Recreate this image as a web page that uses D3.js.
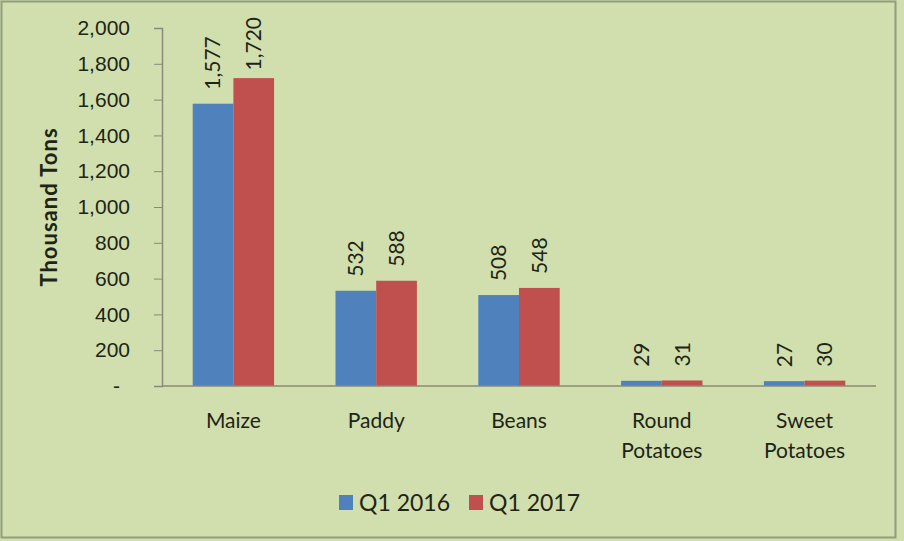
<!DOCTYPE html>
<html>
<head>
<meta charset="utf-8">
<script src="https://cdn.jsdelivr.net/npm/d3@7/dist/d3.min.js"></script>
<style>
  html, body { margin: 0; padding: 0; background: #ffffff; }
  svg { display: block; font-family: Lato, "Noto Sans", sans-serif; }
  text { fill: #1e2416; }
</style>
</head>
<body>
<div id="chart"></div>
<script>
const categories = [['Maize'], ['Paddy'], ['Beans'], ['Round', 'Potatoes'], ['Sweet', 'Potatoes']];
const seriesNames = ['Q1 2016', 'Q1 2017'];
const q1_2016 = [1577, 532, 508, 29, 27];
const q1_2017 = [1720, 588, 548, 31, 30];
const yTicks = [0, 200, 400, 600, 800, 1000, 1200, 1400, 1600, 1800, 2000];
const colors = ['#4f81bd', '#c0504d'];

const chartWidth = 904;
const chartHeight = 541;
const plotLeft = 162; // y axis position
const plotRight = 876;
const plotTop = 28;
const plotBottom = 386;

const svg = d3.select('#chart')
  .append('svg')
  .attr('width', chartWidth)
  .attr('height', chartHeight);

// background + frame
svg.append('rect')
  .attr('x', 0).attr('y', 0)
  .attr('width', chartWidth).attr('height', chartHeight)
  .attr('fill', '#d0dfad');
svg.append('rect')
  .attr('x', 1.5).attr('y', 1.5)
  .attr('width', 894).attr('height', 536)
  .attr('fill', 'none')
  .attr('stroke', '#8f9d80')
  .attr('stroke-width', 2);

const rows = categories.map((c, i) => ({ key: c.join(' '), lines: c, values: [q1_2016[i], q1_2017[i]] }));

const x0 = d3.scaleBand()
  .domain(rows.map(d => d.key))
  .range([plotLeft, plotRight])
  .paddingInner(0.43)
  .paddingOuter(0.215);

const x1 = d3.scaleBand()
  .domain([0, 1])
  .range([0, x0.bandwidth()]);

const y = d3.scaleLinear()
  .domain([0, 2000])
  .range([plotBottom, plotTop]);

// y axis
const yAxis = d3.axisLeft(y)
  .tickValues(yTicks)
  .tickSize(8)
  .tickPadding(24)
  .tickFormat(d => d === 0 ? '-' : d3.format(',')(d));

const yg = svg.append('g')
  .attr('transform', 'translate(' + plotLeft + ',0)')
  .call(yAxis);
yg.select('.domain').attr('stroke', '#8a8a7a').attr('stroke-width', 1.5);
yg.selectAll('.tick line').attr('stroke', '#8a8a7a');
yg.selectAll('.tick text')
  .attr('font-size', 21)
  .attr('fill', '#1e2416')
  .attr('dx', d => d === 0 ? -10 : 0);

// bars
const groups = svg.append('g')
  .selectAll('g')
  .data(rows)
  .enter()
  .append('g')
  .attr('transform', d => 'translate(' + x0(d.key) + ',0)');

groups.selectAll('rect')
  .data(d => d.values)
  .enter()
  .append('rect')
  .attr('x', (d, i) => x1(i))
  .attr('y', d => y(d))
  .attr('width', x1.bandwidth())
  .attr('height', d => plotBottom - y(d))
  .attr('fill', (d, i) => colors[i]);

// data labels, rotated
groups.selectAll('text.val')
  .data(d => d.values)
  .enter()
  .append('text')
  .attr('class', 'val')
  .attr('font-size', 21)
  .attr('dy', '0.35em')
  .text(d => d3.format(',')(d))
  .each(function (d, i) {
    const len = this.getComputedTextLength();
    const cx = x1(i) + x1.bandwidth() / 2;
    const yb = Math.max(y(d) - 14, 17 + len);
    d3.select(this).attr('transform', 'translate(' + cx + ',' + yb + ') rotate(-90)');
  });

// x axis line
svg.append('line')
  .attr('x1', plotLeft).attr('x2', plotRight)
  .attr('y1', plotBottom).attr('y2', plotBottom)
  .attr('stroke', '#8a8a7a')
  .attr('stroke-width', 1.5);

// category labels
const catLabels = svg.append('g')
  .selectAll('text')
  .data(rows)
  .enter()
  .append('text')
  .attr('text-anchor', 'middle')
  .attr('font-size', 21)
  .attr('transform', d => 'translate(' + (x0(d.key) + x0.bandwidth() / 2) + ',428)');

catLabels.selectAll('tspan')
  .data(d => d.lines)
  .enter()
  .append('tspan')
  .attr('x', 0)
  .attr('y', (d, i) => i * 30)
  .text(d => d);

// y axis title
svg.append('text')
  .attr('transform', 'translate(57,' + ((plotTop + plotBottom) / 2) + ') rotate(-90)')
  .attr('text-anchor', 'middle')
  .attr('font-size', 22)
  .attr('letter-spacing', 1)
  .attr('font-weight', 'bold')
  .text('Thousand Tons');

// legend
const legendX = [339, 469];
const legend = svg.append('g')
  .selectAll('g')
  .data(seriesNames)
  .enter()
  .append('g')
  .attr('transform', (d, i) => 'translate(' + legendX[i] + ',495)');

legend.append('rect')
  .attr('width', 14)
  .attr('height', 15)
  .attr('fill', (d, i) => colors[i]);

legend.append('text')
  .attr('x', 20)
  .attr('y', 16)
  .attr('font-size', 23)
  .text(d => d);
</script>
</body>
</html>
